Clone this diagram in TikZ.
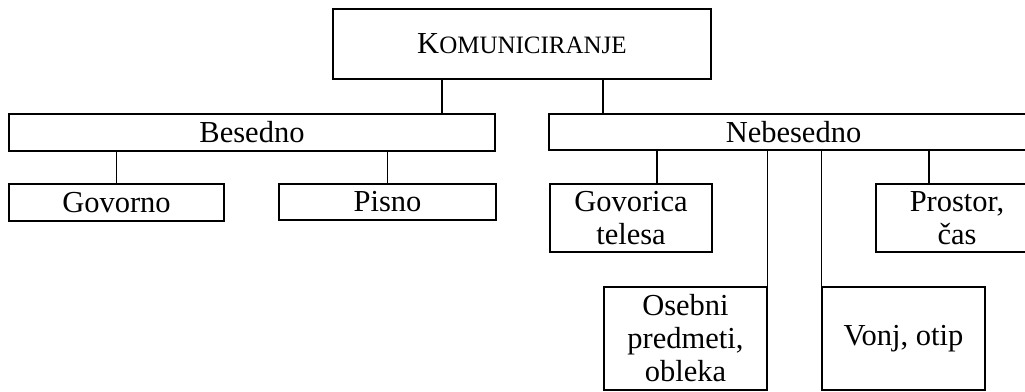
\documentclass[tikz,border=0pt]{standalone}
\usepackage{fontspec}
\setmainfont{Liberation Serif}
\usepackage{tikz}

\begin{document}
\begin{tikzpicture}[x=1pt,y=-1pt,line width=1.1pt,
  box/.style={draw,rectangle,inner sep=0pt,align=center,font=\fontsize{30.5}{33}\selectfont}]
\path[use as bounding box] (0,0) rectangle (1025,391);
\node[box,minimum width=378,minimum height=70] (kom) at (522,44) {K{\fontsize{25}{28}\selectfont OMUNICIRANJE}};
\node[box,minimum width=486,minimum height=37] (bes) at (252,132.5) {Besedno};
\node[box,minimum width=489,minimum height=36] (neb) at (793.5,132) {Nebesedno};
\node[box,minimum width=215,minimum height=37] (gov) at (116.5,202.5) {Govorno};
\node[box,minimum width=217,minimum height=36] (pis) at (387.5,202) {Pisno};
\node[box,minimum width=162,minimum height=68] (gt) at (631,218) {Govorica\\telesa};
\node[box,minimum width=162,minimum height=68] (ps) at (957,218) {Prostor,\\čas};
\node[box,minimum width=163,minimum height=103] (ob) at (685.5,338.5) {Osebni\\predmeti,\\obleka};
\node[box,minimum width=163,minimum height=103] (vo) at (903.5,338.5) {Vonj, otip};
\draw ([xshift=-80]kom.south) -- ([xshift=-80]kom.south |- bes.north);
\draw ([xshift=81]kom.south) -- ([xshift=81]kom.south |- neb.north);
\draw (bes.south -| gov.north) -- (gov.north);
\draw (bes.south -| pis.north) -- (pis.north);
\draw ([xshift=26]gt.north) -- ([xshift=26]gt.north |- neb.south);
\draw ([xshift=-28]ps.north) -- ([xshift=-28]ps.north |- neb.south);
\draw (neb.south -| ob.north east) -- (ob.north east);
\draw (neb.south -| vo.north west) -- (vo.north west);
\end{tikzpicture}
\end{document}
